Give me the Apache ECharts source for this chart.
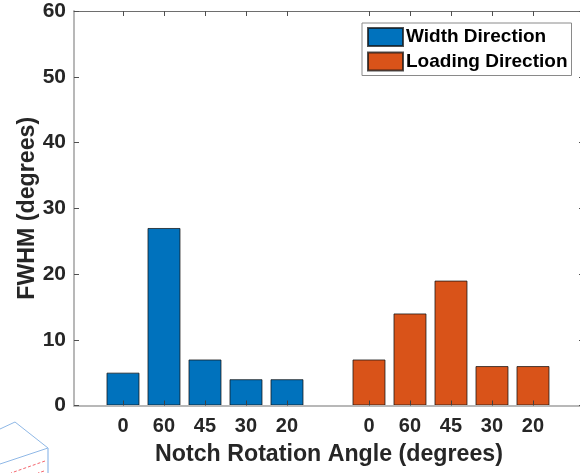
<!DOCTYPE html>
<html><head><meta charset="utf-8">
<style>html,body{margin:0;padding:0;background:#fff}#c{width:580px;height:473px}</style>
<script src="https://cdn.jsdelivr.net/npm/echarts@6/dist/echarts.min.js"></script>
</head><body><div id="c"></div>
<script>
const tickLabels = ['0','60','45','30','20','0','60','45','30','20'];
const positions = [1,2,3,4,5,7,8,9,10,11];
const widthPositions = [1,2,3,4,5];
const loadingPositions = [7,8,9,10,11];
const widthDirection = [5,27,7,4,4];
const loadingDirection = [7,14,19,6,6];
const font = '"Liberation Sans", Arial, sans-serif';
const chart = echarts.init(document.getElementById('c'), null, {renderer:'canvas'});
const labelFor = v => tickLabels[positions.indexOf(v)];
function pairs(xs, ys){ return xs.map((x,i)=>[x,ys[i]]); }
const edge = {borderColor:'rgba(20,20,20,0.75)', borderWidth:1};
chart.setOption({
  animation:false,
  backgroundColor:'#fff',
  grid:{left:74, top:11, width:510, height:394.5, containLabel:false, outerBoundsMode:'none'},
  legend:{
    left:362, top:23, orient:'vertical', padding:[4,4,4,5], itemGap:4.5, icon:'rect',
    itemWidth:35, itemHeight:18, backgroundColor:'#fff',
    borderColor:'#8a8a8a', borderWidth:1,
    textStyle:{fontFamily:font, fontWeight:'bold', fontSize:19, lineHeight:18, color:'#000', padding:[0,0,0,-2]},
    data:['Width Direction','Loading Direction']
  },
  xAxis:[{
    type:'value', min:-0.195, max:12.244, position:'bottom', z:5,
    splitLine:{show:false},
    axisLine:{show:true, onZero:false, lineStyle:{color:'#b8b8b8', width:2}},
    axisTick:{show:true, inside:true, length:5, customValues:positions, lineStyle:{color:'#404040', width:1}},
    axisLabel:{show:true, customValues:positions, formatter:labelFor, margin:11,
      fontFamily:font, fontWeight:'bold', fontSize:20, color:'#262626'},
    name:'Notch Rotation Angle (degrees)', nameLocation:'middle', nameGap:38,
    nameTextStyle:{fontFamily:font, fontWeight:'bold', fontSize:23.2, color:'#262626'}
  },{
    type:'value', min:-0.195, max:12.244, position:'top', z:5,
    splitLine:{show:false},
    axisLine:{show:true, onZero:false, lineStyle:{color:'#6e6e6e', width:1}},
    axisTick:{show:true, inside:true, length:5, customValues:positions, lineStyle:{color:'#505050', width:1}},
    axisLabel:{show:false}
  }],
  yAxis:[{
    type:'value', min:0, max:60, interval:10, position:'left', z:5,
    splitLine:{show:false},
    axisLine:{show:true, onZero:false, lineStyle:{color:'#b8b8b8', width:2}},
    axisTick:{show:true, inside:true, length:5, lineStyle:{color:'#505050', width:1}},
    axisLabel:{margin:8, fontFamily:font, fontWeight:'bold', fontSize:21, color:'#262626'},
    name:'FWHM (degrees)', nameLocation:'middle', nameGap:35, nameMoveOverlap:false,
    nameTextStyle:{fontFamily:font, fontWeight:'bold', fontSize:23.2, color:'#262626'}
  },{
    type:'value', min:0, max:60, interval:10, position:'right', z:5,
    splitLine:{show:false},
    axisLine:{show:true, onZero:false, lineStyle:{color:'#6e6e6e', width:1}},
    axisTick:{show:true, inside:true, length:5, lineStyle:{color:'#505050', width:1}},
    axisLabel:{show:false}
  }],
  series:[
    {name:'Width Direction', type:'bar', xAxisIndex:0, yAxisIndex:0, barWidth:33, barGap:'-100%',
     data:pairs(widthPositions,widthDirection), itemStyle:Object.assign({color:'#0072BD'},edge)},
    {name:'Loading Direction', type:'bar', xAxisIndex:0, yAxisIndex:0, barWidth:33, barGap:'-100%',
     data:pairs(loadingPositions,loadingDirection), itemStyle:Object.assign({color:'#D95319'},edge)}
  ],
  graphic:[
    {type:'polyline', z:10, shape:{points:[[0,429],[15,422],[48,448],[0,464]]}, style:{fill:'none', stroke:'#8fb8e6', lineWidth:1}},
    {type:'line', z:10, shape:{x1:48,y1:448,x2:48,y2:473}, style:{stroke:'#a9c9ee', lineWidth:1.5}},
    {type:'line', z:10, shape:{x1:45,y1:461,x2:11,y2:473}, style:{stroke:'#f4666e', lineWidth:1, lineDash:[3,2]}},
    {type:'line', z:10, shape:{x1:44,y1:471,x2:38,y2:473}, style:{stroke:'#f4666e', lineWidth:1, lineDash:[3,2]}}
  ]
});
</script></body></html>
